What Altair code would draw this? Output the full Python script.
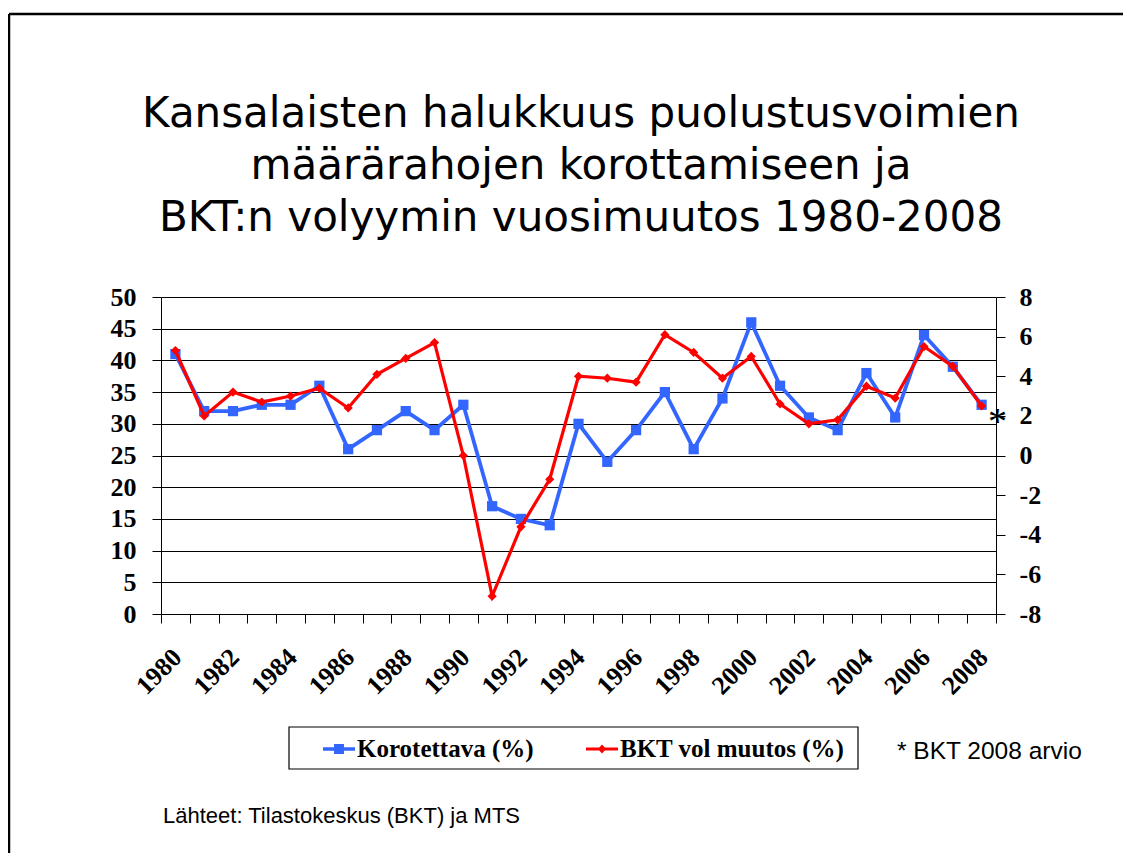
import altair as alt
import pandas as pd

# ---- data ----
years = list(range(1980, 2009))
korotettava = [41, 32, 32, 33, 33, 36, 26, 29, 32, 29,
               33, 17, 15, 14, 30, 24, 29, 35, 26, 34,
               46, 36, 31, 29, 38, 31, 44, 39, 33]
bkt_muutos = [5.3, 2.0, 3.2, 2.7, 3.0, 3.4, 2.4, 4.1, 4.9, 5.7,
              0.0, -7.1, -3.6, -1.2, 4.0, 3.9, 3.7, 6.1, 5.2, 3.9,
              5.0, 2.6, 1.6, 1.8, 3.5, 2.9, 5.5, 4.5, 2.5]
series_names = ["Korotettava (%)", "BKT vol muutos (%)"]
series_colors = ["#3366FF", "#FF0000"]
title_lines = ["Kansalaisten halukkuus puolustusvoimien",
               "määrärahojen korottamiseen ja",
               "BKT:n volyymin vuosimuutos 1980-2008"]
left_ticks = list(range(0, 51, 5))
right_ticks = list(range(-8, 9, 2))
note_text = "* BKT 2008 arvio"
source_text = "Lähteet: Tilastokeskus (BKT) ja MTS"
star_text = "*"

# ---- layout ----
W, H = 835, 317
PAD = {"left": 153, "top": 289, "right": 127, "bottom": 239}
SERIF = "Liberation Serif"
LBL = 26

df_k = pd.DataFrame({"year": years, "value": korotettava, "series": series_names[0]})
df_b = pd.DataFrame({"year": years, "value": bkt_muutos, "series": series_names[1]})
df_star = df_b[df_b["year"] == years[-1]]
df_leg = pd.DataFrame({"series": series_names})
one = pd.DataFrame({"a": [0]})
boundaries = [y - 0.5 for y in years] + [years[-1] + 0.5]

x_scale = alt.Scale(domain=[years[0] - 0.5, years[-1] + 0.5], nice=False, zero=False)
x_axis = alt.Axis(
    values=boundaries,
    labelExpr="((datum.value + 0.5) % 2 == 0 && datum.value < 2008) ? format(datum.value + 0.5, 'd') : ''",
    labelAngle=-45, labelAlign="right", labelBaseline="middle",
    labelOffset=16, labelPadding=30, labelFlush=False, labelOverlap=False,
    labelFont=SERIF, labelFontWeight="bold", labelFontSize=LBL, labelColor="black",
    tickSize=9, tickColor="black", tickWidth=1, domainColor="black", domainWidth=1,
    grid=False, title=None,
)
x_enc = alt.X("year:Q", scale=x_scale, axis=x_axis)

left_axis = alt.Axis(
    orient="left", values=left_ticks, grid=True, gridColor="black", gridWidth=1, gridOpacity=1,
    tickSize=9, tickColor="black", domainColor="black", labelFlush=False,
    labelFont=SERIF, labelFontWeight="bold", labelFontSize=LBL, labelColor="black",
    labelPadding=16, title=None,
)
right_axis = alt.Axis(
    orient="right", values=right_ticks, grid=False, labelExpr="'' + datum.value",
    tickSize=9, tickColor="black", domainColor="black", labelFlush=False,
    labelFont=SERIF, labelFontWeight="bold", labelFontSize=LBL, labelColor="black",
    labelPadding=14, title=None,
)
y_left = alt.Y("value:Q", scale=alt.Scale(domain=[0, 50], nice=False, zero=False), axis=left_axis)
y_right = alt.Y("value:Q", scale=alt.Scale(domain=[-8, 8], nice=False, zero=False), axis=right_axis)

# legend symbols: line with marker (unit coords, scaled by sqrt(size)/2 = 16px)
path_k = "M-1,-0.11H1V0.11H-1Z M-0.31,-0.31H0.31V0.31H-0.31Z"
path_b = "M-1,-0.095H1V0.095H-1Z M0,-0.28L0.26,0L0,0.28L-0.26,0Z"
legend = alt.Legend(
    orient="none", legendX=162, legendY=436, direction="horizontal", title=None,
    labelFont=SERIF, labelFontWeight="bold", labelFontSize=25, labelColor="black",
    labelOffset=2, labelLimit=500, columnPadding=52, padding=0, symbolSize=1024,
    symbolOpacity=1, symbolStrokeWidth=0,
)
legend_layer = alt.Chart(df_leg).mark_point(filled=True, opacity=0, size=1).encode(
    color=alt.Color("series:N", scale=alt.Scale(domain=series_names, range=series_colors), legend=legend),
    shape=alt.Shape("series:N", scale=alt.Scale(domain=series_names, range=[path_k, path_b]), legend=legend),
)

blue_line = alt.Chart(df_k).mark_line(strokeWidth=3.8, color=series_colors[0]).encode(x=x_enc, y=y_left)
blue_pts = alt.Chart(df_k).mark_point(shape="square", filled=True, size=105, opacity=1,
                                      color=series_colors[0]).encode(x=x_enc, y=y_left)
blue = alt.layer(blue_line, blue_pts)

red_line = alt.Chart(df_b).mark_line(strokeWidth=3.2, color=series_colors[1]).encode(x=x_enc, y=y_right)
red_pts = alt.Chart(df_b).mark_point(shape="diamond", filled=True, size=85, opacity=1,
                                     color=series_colors[1]).encode(x=x_enc, y=y_right)
star = alt.Chart(df_star).mark_text(text=star_text, font=SERIF, fontSize=38, color="black",
                                    align="center", baseline="alphabetic", dx=16, dy=28
                                    ).encode(x=x_enc, y=y_right)
red = alt.layer(red_line, red_pts, star)

# decorations
frame_top = alt.Chart(one).mark_rule(color="black", strokeWidth=2.5).encode(
    x=alt.value(-152), x2=alt.value(970), y=alt.value(-283))
frame_left = alt.Chart(one).mark_rule(color="black", strokeWidth=2.5).encode(
    x=alt.value(-152), y=alt.value(-283), y2=alt.value(570))
legend_box = alt.Chart(one).mark_rect(fill="white", stroke="black", strokeWidth=1.2).encode(
    x=alt.value(128), x2=alt.value(697), y=alt.value(430), y2=alt.value(472))
title = alt.Chart(one).mark_text(text=title_lines, font="DejaVu Sans", fontSize=42, lineHeight=52,
                                 align="center", baseline="alphabetic", color="black").encode(
    x=alt.value(420), y=alt.value(-170))
note = alt.Chart(one).mark_text(text=note_text, font="Liberation Sans", fontSize=24.5,
                                align="left", baseline="middle", color="black").encode(
    x=alt.value(736), y=alt.value(455))
source = alt.Chart(one).mark_text(text=source_text, font="Liberation Sans", fontSize=22,
                                  align="left", baseline="middle", color="black").encode(
    x=alt.value(2), y=alt.value(519))

chart = alt.layer(
    frame_top, frame_left, legend_box, title, note, source, blue, red, legend_layer
).resolve_scale(y="independent").properties(
    width=W, height=H, padding=PAD,
    autosize=alt.AutoSizeParams(type="none"), background="white",
).configure_view(stroke=None)

chart.save("out.html", embed_options={"renderer": "svg", "actions": False})
